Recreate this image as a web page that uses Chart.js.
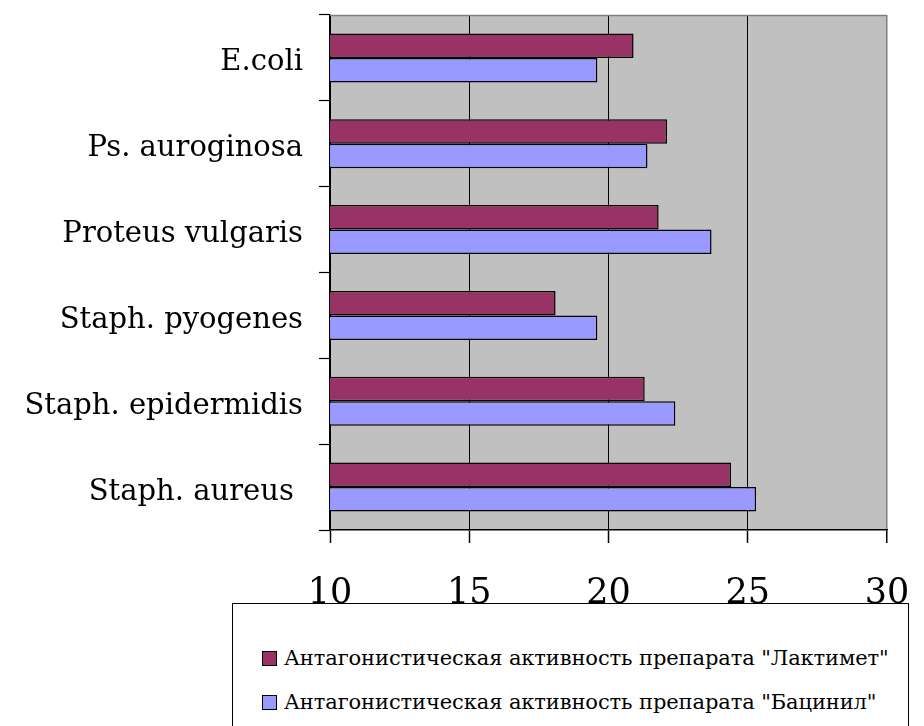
<!DOCTYPE html>
<html><head><meta charset="utf-8">
<script src="https://cdn.jsdelivr.net/npm/chart.js@4.4.0/dist/chart.umd.min.js"></script>
<style>
html,body{margin:0;padding:0;background:#fff;}
#wrap{position:relative;width:924px;height:726px;overflow:hidden;background:#fff;}
#legend{position:absolute;left:232px;top:603px;width:677px;height:140px;border:1px solid #000;box-sizing:border-box;z-index:0;font-family:"DejaVu Serif",serif;font-size:21px;letter-spacing:-0.1px;color:#000;}
.item{position:absolute;left:29px;display:flex;align-items:center;white-space:nowrap;line-height:30px;}
.sw{width:13px;height:13px;border:1px solid #000;margin-right:7px;flex:none;}
canvas{position:absolute;left:0;top:0;z-index:1;}
</style></head>
<body><div id="wrap"><div id="legend"></div><canvas id="c" width="924" height="726"></canvas></div>
<script>
const categories = ["E.coli", "Ps. auroginosa", "Proteus vulgaris", "Staph. pyogenes", "Staph. epidermidis", "Staph. aureus "];
const lactimet = [20.9, 22.1, 21.8, 18.1, 21.3, 24.4];
const bacinil = [19.6, 21.4, 23.7, 19.6, 22.4, 25.3];
const seriesNames = ["Антагонистическая активность препарата \"Лактимет\"", "Антагонистическая активность препарата \"Бацинил\""];
const xTickValues = [10, 15, 20, 25, 30];
const serifFamily = "'DejaVu Serif', serif";

const plotBg = {
  id: 'plotBg',
  beforeDraw(chart) {
    const {ctx, chartArea: a} = chart;
    ctx.save();
    ctx.fillStyle = '#C0C0C0';
    ctx.fillRect(a.left, a.top, a.right - a.left, a.bottom - a.top);
    ctx.restore();
  },
  afterDraw(chart) {
    const {ctx, chartArea: a} = chart;
    ctx.save();
    ctx.strokeStyle = '#808080';
    ctx.lineWidth = 1.5;
    ctx.beginPath();
    ctx.moveTo(a.left, a.top + 0.5);
    ctx.lineTo(a.right, a.top + 0.5);
    ctx.stroke();
    ctx.restore();
  }
};

const chart = new Chart(document.getElementById('c'), {
  type: 'bar',
  data: {
    labels: categories,
    datasets: [
      {label: seriesNames[0], data: lactimet, backgroundColor: '#993366', borderColor: '#000', borderWidth: 1.5, borderSkipped: false},
      {label: seriesNames[1], data: bacinil, backgroundColor: '#9999FF', borderColor: '#000', borderWidth: 1.5, borderSkipped: false}
    ]
  },
  options: {
    indexAxis: 'y',
    responsive: false,
    devicePixelRatio: 1,
    animation: false,
    layout: {padding: {left: 0, right: 37, top: 15, bottom: 0}},
    datasets: {bar: {categoryPercentage: 0.57, barPercentage: 1.0}},
    plugins: {legend: {display: false}, tooltip: {enabled: false}},
    scales: {
      x: {
        type: 'linear', min: 10, max: 30,
        afterBuildTicks(scale) { scale.ticks = xTickValues.map(v => ({value: v})); },
        afterFit(scale) { scale.height = 196; scale.paddingLeft = 0; scale.paddingRight = 0; },
        border: {display: true, color: '#000', width: 1.5},
        grid: {
          drawOnChartArea: true, drawTicks: true, tickLength: 13,
          color: ctx => (ctx.tick && ctx.tick.value === 30) ? '#808080' : '#000',
          lineWidth: ctx => (ctx.tick && ctx.tick.value === 30) ? 1.5 : 1,
          tickColor: '#000', tickWidth: 1.5
        },
        ticks: {color: '#000', padding: 30, font: {family: serifFamily, size: 35}, maxRotation: 0}
      },
      y: {
        type: 'category',
        afterFit(scale) { scale.width = 330; scale.paddingTop = 0; scale.paddingBottom = 0; },
        border: {display: true, color: '#000', width: 1.5},
        grid: {drawOnChartArea: false, drawTicks: true, tickLength: 11, tickColor: '#000', tickWidth: 1.2, offset: true},
        ticks: {color: '#000', padding: 16, labelOffset: 5, font: {family: serifFamily, size: 29}, autoSkip: false}
      }
    }
  },
  plugins: [plotBg]
});

const leg = document.getElementById('legend');
const tops = [39, 83];
chart.data.datasets.forEach((ds, i) => {
  const it = document.createElement('div');
  it.className = 'item';
  it.style.top = tops[i] + 'px';
  const sw = document.createElement('span');
  sw.className = 'sw';
  sw.style.background = ds.backgroundColor;
  const tx = document.createElement('span');
  tx.textContent = ds.label;
  it.appendChild(sw); it.appendChild(tx);
  leg.appendChild(it);
});
</script>
</body></html>
